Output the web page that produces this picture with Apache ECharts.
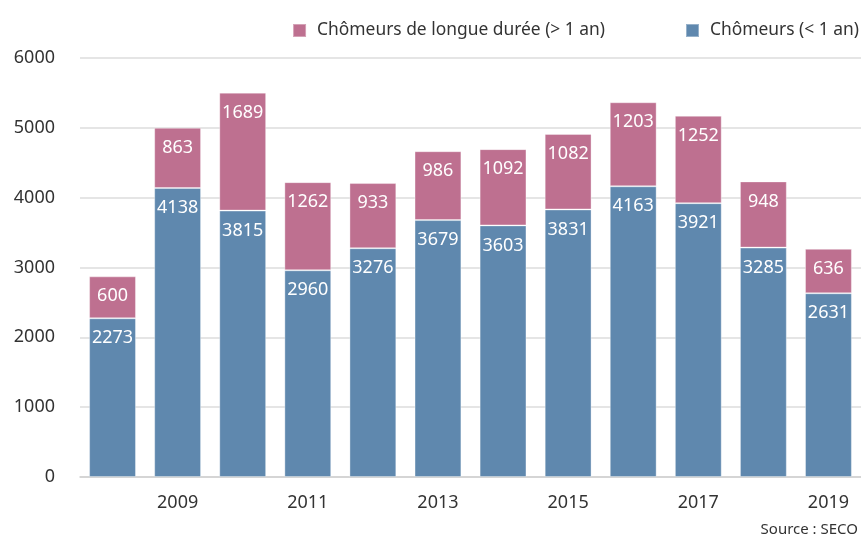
<!DOCTYPE html>
<html>
<head>
<meta charset="utf-8">
<script src="https://cdn.jsdelivr.net/npm/echarts@6/dist/echarts.min.js"></script>
<style>
  html, body { margin: 0; padding: 0; background: #fff; }
  #chart { width: 861px; height: 540px; }
</style>
</head>
<body>
<div id="chart"></div>
<script>
// données (SECO)
const years = ['2008', '2009', '2010', '2011', '2012', '2013', '2014', '2015', '2016', '2017', '2018', '2019']
const shortTerm = [2273, 4138, 3815, 2960, 3276, 3679, 3603, 3831, 4163, 3921, 3285, 2631]
const longTerm = [600, 863, 1689, 1262, 933, 986, 1092, 1082, 1203, 1252, 948, 636]
const yTicks = [0, 1000, 2000, 3000, 4000, 5000, 6000]

const font = 'Noto Sans'
const blue = '#5f88ae'
const pink = '#be7090'

const chart = echarts.init(document.getElementById('chart'))

const labelStyle = {
  show: true,
  position: 'insideTop',
  distance: 11,
  color: '#fff',
  fontFamily: font,
  fontSize: 18
}

chart.setOption({
  animation: false,
  textStyle: { fontFamily: font },
  legend: {
    top: 17,
    right: -3,
    itemWidth: 13,
    itemHeight: 13,
    itemGap: 80,
    icon: 'rect',
    textStyle: { fontSize: 17.4, color: '#333', fontFamily: font, padding: [0, 0, 0, 6] },
    data: ['Chômeurs de longue durée (> 1 an)', 'Chômeurs (< 1 an)']
  },
  grid: { left: 80, right: -8, top: 58, bottom: 63 },
  xAxis: {
    type: 'category',
    data: years,
    axisTick: { show: false },
    axisLine: { lineStyle: { color: '#d0d0d0', width: 1.5 } },
    axisLabel: {
      interval: 0,
      margin: 17,
      fontSize: 18,
      color: '#333',
      formatter: (v, i) => (i % 2 === 1 ? v : '')
    }
  },
  yAxis: {
    type: 'value',
    min: yTicks[0],
    max: yTicks[yTicks.length - 1],
    interval: 1000,
    axisLabel: { fontSize: 18, color: '#333', margin: 25, formatter: (v) => String(v) },
    splitLine: { lineStyle: { color: '#dcdcdc', width: 1.5 } }
  },
  series: [
    {
      name: 'Chômeurs (< 1 an)',
      type: 'bar',
      stack: 'total',
      barWidth: '72%',
      data: shortTerm,
      itemStyle: { color: blue, borderColor: 'rgba(255,255,255,0.35)', borderWidth: 1 },
      label: labelStyle
    },
    {
      name: 'Chômeurs de longue durée (> 1 an)',
      type: 'bar',
      stack: 'total',
      data: longTerm,
      itemStyle: { color: pink, borderColor: 'rgba(255,255,255,0.35)', borderWidth: 1 },
      label: labelStyle
    }
  ],
  graphic: [{
    type: 'text',
    right: 3,
    top: 522,
    style: { text: 'Source : SECO', fontSize: 15, fill: '#333', fontFamily: font }
  }]
})
</script>
</body>
</html>
